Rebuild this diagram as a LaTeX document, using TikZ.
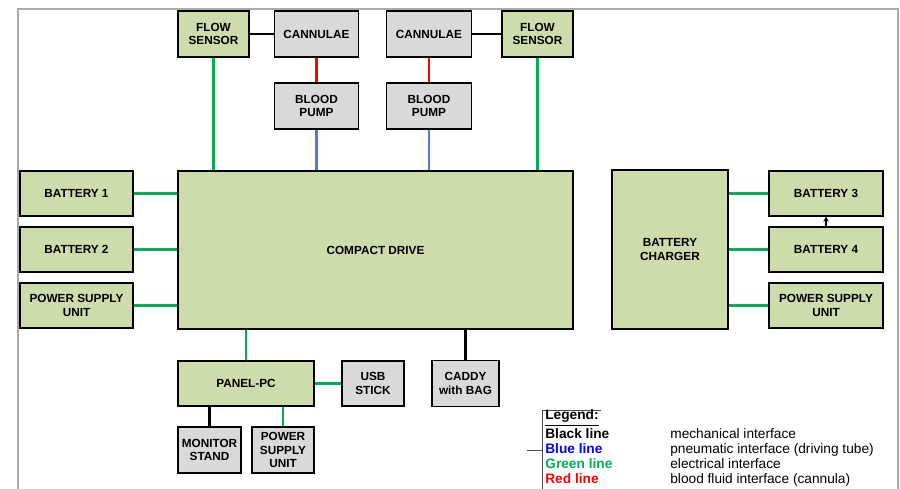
\documentclass[tikz,border=0pt]{standalone}
\usepackage{fontspec}
\setmainfont{Liberation Sans}
\usetikzlibrary{arrows.meta, positioning, calc}
\definecolor{boxgreen}{RGB}{204, 220, 170}
\definecolor{boxgray}{RGB}{217, 217, 217}
\definecolor{elecgreen}{RGB}{0, 176, 80}
\definecolor{pneublue}{RGB}{70, 130, 210}
\definecolor{bloodred}{RGB}{255, 0, 0}
\definecolor{framegray}{RGB}{170, 170, 170}
\tikzset{
  modgreen/.style  = {rectangle, draw=black, line width=0.6pt, fill=boxgreen, align=center, inner sep=1pt, font=\bfseries\fontsize{6.7}{7.8}\selectfont},
  modgray/.style   = {rectangle, draw=black, line width=0.6pt, fill=boxgray, align=center, inner sep=1pt, font=\bfseries\fontsize{6.7}{7.8}\selectfont},
  mech/.style      = {line width=1.4pt, black},
  elec/.style      = {line width=1.4pt, elecgreen},
  pneu/.style      = {line width=1.4pt, pneublue},
  blood/.style     = {line width=1.4pt, bloodred},
  framestyle/.style= {line width=1.1pt, framegray},
  legtxt/.style    = {anchor=base west, inner sep=0pt, font=\fontsize{7.8}{9}\selectfont},
}
\begin{document}
\begin{tikzpicture}[scale=1.0, transform shape]

\useasboundingbox (0,0) rectangle (18,9.78);

% outer frame (open at the bottom)
\draw[framestyle] (0.36,0) -- (0.36,9.60) -- (17.96,9.60) -- (17.96,0);

% === top row: sensors, cannulae, pumps ===
\node[modgreen, minimum width=1.42cm, minimum height=0.92cm] (fsL) at (4.27,9.10) {FLOW\\SENSOR};
\node[modgray,  minimum width=1.69cm, minimum height=0.92cm] (canL) at (6.33,9.10) {CANNULAE};
\node[modgray,  minimum width=1.69cm, minimum height=0.92cm] (canR) at (8.58,9.10) {CANNULAE};
\node[modgreen, minimum width=1.42cm, minimum height=0.92cm] (fsR) at (10.75,9.10) {FLOW\\SENSOR};

\node[modgray, minimum width=1.69cm, minimum height=0.92cm] (bpL) at (6.33,7.66) {BLOOD\\PUMP};
\node[modgray, minimum width=1.69cm, minimum height=0.92cm] (bpR) at (8.58,7.66) {BLOOD\\PUMP};

% === drive and its supplies ===
\node[modgreen, minimum width=7.9cm, minimum height=3.16cm] (drive) at (7.51,4.78) {COMPACT DRIVE};

\node[modgreen, minimum width=2.26cm, minimum height=0.9cm] (bat1) at (1.53,5.91) {BATTERY 1};
\node[modgreen, minimum width=2.26cm, minimum height=0.9cm] (bat2) at (1.53,4.79) {BATTERY 2};
\node[modgreen, minimum width=2.26cm, minimum height=0.9cm] (psuL) at (1.53,3.67) {POWER SUPPLY\\UNIT};

% === charger side ===
\node[modgreen, minimum width=2.32cm, minimum height=3.18cm] (charger) at (13.40,4.79) {BATTERY\\CHARGER};

\node[modgreen, minimum width=2.28cm, minimum height=0.9cm] (bat3) at (16.52,5.91) {BATTERY 3};
\node[modgreen, minimum width=2.28cm, minimum height=0.9cm] (bat4) at (16.52,4.79) {BATTERY 4};
\node[modgreen, minimum width=2.28cm, minimum height=0.9cm] (psuR) at (16.52,3.67) {POWER SUPPLY\\UNIT};

% === panel-pc group ===
\node[modgreen, minimum width=2.72cm, minimum height=0.9cm] (panel) at (4.92,2.11) {PANEL-PC};
\node[modgray,  minimum width=1.24cm, minimum height=0.9cm] (usb) at (7.46,2.11) {USB\\STICK};
\node[modgray,  minimum width=1.34cm, minimum height=0.92cm] (caddy) at (9.31,2.11) {CADDY\\with BAG};

\node[modgray, minimum width=1.26cm, minimum height=0.92cm] (monitor) at (4.19,0.78) {MONITOR\\STAND};
\node[modgray, minimum width=1.24cm, minimum height=0.92cm] (psuS) at (5.66,0.78) {POWER\\SUPPLY\\UNIT};

% === connectors ===
\draw[mech] (fsL.east) -- (canL.west);
\draw[mech] (canR.east) -- (fsR.west);
\draw[blood] (canL.south) -- (bpL.north);
\draw[blood] (canR.south) -- (bpR.north);

\draw[elec] (fsL.south) -- (fsL.south |- drive.north);
\draw[elec] (fsR.south) -- (fsR.south |- drive.north);
\draw[pneu] (bpL.south) -- (bpL.south |- drive.north);
\draw[pneu] (bpR.south) -- (bpR.south |- drive.north);

\draw[elec] (bat1.east) -- (bat1.east -| drive.west);
\draw[elec] (bat2.east) -- (bat2.east -| drive.west);
\draw[elec] (psuL.east) -- (psuL.east -| drive.west);

\draw[elec] (bat3.west -| charger.east) -- (bat3.west);
\draw[elec] (bat4.west -| charger.east) -- (bat4.west);
\draw[elec] (psuR.west -| charger.east) -- (psuR.west);
\draw[-{Stealth[length=3pt, width=3pt]}, line width=0.6pt] (bat4.north) -- (bat3.south);

\draw[elec] (panel.north) -- (panel.north |- drive.south);
\draw[mech] (caddy.north) -- (caddy.north |- drive.south);
\draw[elec] (panel.east) -- (usb.west);
\draw[mech] (monitor.north) -- (monitor.north |- panel.south);
\draw[elec] (psuS.north) -- (psuS.north |- panel.south);

% === legend ===
\draw[black!70, line width=0.5pt] (10.84,0) -- (10.84,1.58) -- (12.02,1.58);
\coordinate (legtick) at (10.54,0.78);
\draw[black!70, line width=0.5pt] (legtick) -- (legtick -| 10.84,0);

\node[legtxt, font=\bfseries\fontsize{7.8}{9}\selectfont] (legtitle) at (10.90,1.38) {\underline{Legend:}};
\node[legtxt, font=\bfseries\fontsize{7.8}{9}\selectfont] (legblack) at (10.90,1.00) {Black line};
\node[legtxt, font=\bfseries\fontsize{7.8}{9}\selectfont, text=blue] (legblue) at (10.90,0.70) {Blue line};
\node[legtxt, font=\bfseries\fontsize{7.8}{9}\selectfont, text=elecgreen] (leggreen) at (10.90,0.40) {Green line};
\node[legtxt, font=\bfseries\fontsize{7.8}{9}\selectfont, text=bloodred] (legred) at (10.90,0.10) {Red line};

\node[legtxt] (descblack) at (13.40,1.00) {mechanical interface};
\node[legtxt] (descblue) at (13.40,0.70) {pneumatic interface (driving tube)};
\node[legtxt] (descgreen) at (13.40,0.40) {electrical interface};
\node[legtxt] (descred) at (13.40,0.10) {blood fluid interface (cannula)};

\end{tikzpicture}
\end{document}
